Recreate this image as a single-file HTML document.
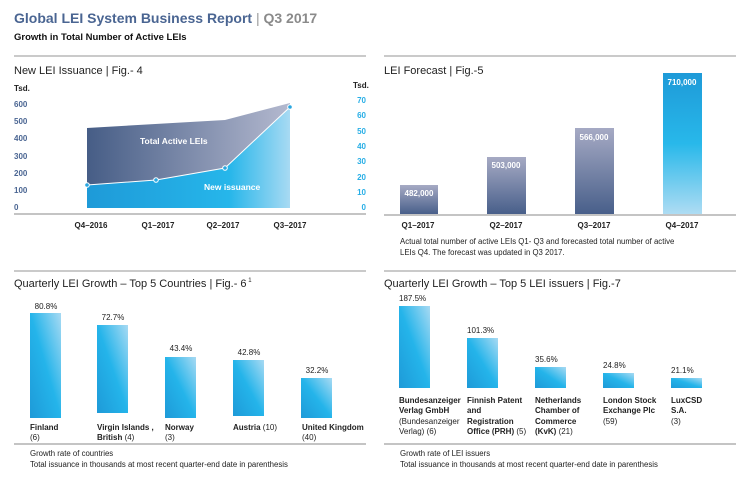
<!DOCTYPE html>
<html><head><meta charset="utf-8"><style>
body{margin:0;background:#fff}
svg{display:block;font-family:"Liberation Sans",sans-serif}
.b{font-weight:bold}
</style></head><body>
<svg width="750" height="481" viewBox="0 0 750 481">
<defs>
<linearGradient id="dk" x1="0" y1="0" x2="1" y2="0"><stop offset="0" stop-color="#465d86"/><stop offset="1" stop-color="#b4b9cf"/></linearGradient>
<linearGradient id="lb" x1="0" y1="0" x2="1" y2="0"><stop offset="0" stop-color="#1e9ad8"/><stop offset="0.7" stop-color="#26b6ea"/><stop offset="1" stop-color="#a8daf3"/></linearGradient>
<linearGradient id="gv" x1="0" y1="0" x2="0" y2="1"><stop offset="0" stop-color="#a6aac4"/><stop offset="1" stop-color="#485f8a"/></linearGradient>
<linearGradient id="bb" x1="0" y1="1" x2="1" y2="0"><stop offset="0" stop-color="#1e9ad8"/><stop offset="0.5" stop-color="#24b4ea"/><stop offset="1" stop-color="#a8daf3"/></linearGradient>
<linearGradient id="q4" x1="0" y1="0" x2="0" y2="1"><stop offset="0" stop-color="#1e9ad8"/><stop offset="0.5" stop-color="#28b8ea"/><stop offset="1" stop-color="#aedcf3"/></linearGradient>
</defs>
<text x="14" y="23" font-size="14" class="b" fill="#4a6592">Global LEI System Business Report <tspan fill="#999" font-weight="normal">|</tspan> <tspan fill="#8a8a8a">Q3 2017</tspan></text>
<text x="14" y="40" font-size="9.5" class="b" fill="#111">Growth in Total Number of Active LEIs</text>
<g stroke="#aaa" stroke-width="1.2"><line x1="14" y1="56" x2="366" y2="56"/><line x1="384" y1="56" x2="736" y2="56"/><line x1="14" y1="271" x2="366" y2="271"/><line x1="384" y1="271" x2="736" y2="271"/></g>
<!-- Fig 4 -->
<text x="14" y="74" font-size="11" fill="#222">New LEI Issuance  |  Fig.- 4</text>
<text x="14" y="91" font-size="8" class="b" fill="#222">Tsd.</text>
<text x="353" y="88" font-size="8" class="b" fill="#222">Tsd.</text>
<g font-size="8" class="b" fill="#4a6592">
<text x="14" y="107">600</text><text x="14" y="124">500</text><text x="14" y="141">400</text><text x="14" y="159">300</text><text x="14" y="176">200</text><text x="14" y="193">100</text><text x="14" y="210">0</text>
</g>
<g font-size="8" class="b" fill="#27aee6" text-anchor="end">
<text x="366" y="103">70</text><text x="366" y="118">60</text><text x="366" y="134">50</text><text x="366" y="149">40</text><text x="366" y="164">30</text><text x="366" y="180">20</text><text x="366" y="195">10</text><text x="366" y="210">0</text>
</g>
<polygon points="87,128 225,120 290,103 290,208 87,208" fill="url(#dk)"/>
<polygon points="87,185 156,180 225,168 290,107 290,208 87,208" fill="url(#lb)"/>
<polyline points="87,185 156,180 225,168 290,107" fill="none" stroke="#fff" stroke-width="1"/>
<g stroke="#fff" stroke-width="1" fill="#2aa7e0"><circle cx="87" cy="185" r="2.3"/><circle cx="156" cy="180" r="2.3"/><circle cx="225" cy="168" r="2.3"/><circle cx="290" cy="107" r="2.3"/></g>
<text x="140" y="144" font-size="8.5" class="b" fill="#fff">Total Active LEIs</text>
<text x="204" y="190" font-size="8.5" class="b" fill="#fff">New issuance</text>
<line x1="14" y1="214" x2="366" y2="214" stroke="#888" stroke-width="1"/>
<g font-size="8" class="b" fill="#222" text-anchor="middle"><text x="91" y="228">Q4–2016</text><text x="158" y="228">Q1–2017</text><text x="223" y="228">Q2–2017</text><text x="290" y="228">Q3–2017</text></g>
<!-- Fig 5 -->
<text x="384" y="74" font-size="11" fill="#222">LEI Forecast  |  Fig.-5</text>
<rect x="400" y="185" width="38" height="29" fill="url(#gv)"/>
<rect x="487" y="157" width="39" height="57" fill="url(#gv)"/>
<rect x="575" y="128" width="39" height="86" fill="url(#gv)"/>
<rect x="663" y="73" width="39" height="141" fill="url(#q4)"/>
<g font-size="8" class="b" fill="#fff" text-anchor="middle"><text x="419" y="196">482,000</text><text x="506" y="168">503,000</text><text x="594" y="140">566,000</text><text x="682" y="85">710,000</text></g>
<line x1="384" y1="215" x2="736" y2="215" stroke="#888" stroke-width="1"/>
<g font-size="8" class="b" fill="#222" text-anchor="middle"><text x="418" y="228">Q1–2017</text><text x="506" y="228">Q2–2017</text><text x="594" y="228">Q3–2017</text><text x="682" y="228">Q4–2017</text></g>
<text x="400" y="244" font-size="7.8" fill="#222">Actual total number of active LEIs Q1- Q3 and forecasted total number of active</text>
<text x="400" y="255" font-size="7.8" fill="#222">LEIs Q4. The  forecast was updated in Q3 2017.</text>
<!-- Fig 6 -->
<text x="14" y="287" font-size="11" fill="#222">Quarterly LEI Growth – Top 5 Countries  |  Fig.- 6<tspan font-size="6" dy="-5"> 1</tspan></text>
<rect x="30" y="313" width="31" height="105" fill="url(#bb)"/>
<rect x="97" y="325" width="31" height="88" fill="url(#bb)"/>
<rect x="165" y="357" width="31" height="61" fill="url(#bb)"/>
<rect x="233" y="360" width="31" height="56" fill="url(#bb)"/>
<rect x="301" y="378" width="31" height="40" fill="url(#bb)"/>
<g font-size="8" fill="#222" text-anchor="middle"><text x="46" y="309">80.8%</text><text x="113" y="320">72.7%</text><text x="181" y="351">43.4%</text><text x="249" y="355">42.8%</text><text x="317" y="373">32.2%</text></g>
<g font-size="8" fill="#222">
<text x="30" y="430" class="b">Finland</text><text x="30" y="440">(6)</text>
<text x="97" y="430" class="b">Virgin Islands ,</text><text x="97" y="440"><tspan class="b">British</tspan> (4)</text>
<text x="165" y="430" class="b">Norway</text><text x="165" y="440">(3)</text>
<text x="233" y="430"><tspan class="b">Austria</tspan> (10)</text>
<text x="302" y="430" class="b">United Kingdom</text><text x="302" y="440">(40)</text>
</g>
<line x1="14" y1="444" x2="366" y2="444" stroke="#888" stroke-width="1"/>
<text x="30" y="456" font-size="7.8" fill="#222">Growth rate of countries</text>
<text x="30" y="467" font-size="7.8" fill="#222">Total issuance in thousands at most recent quarter-end date in parenthesis</text>
<!-- Fig 7 -->
<text x="384" y="287" font-size="11" fill="#222">Quarterly LEI Growth – Top 5 LEI issuers  |  Fig.-7</text>
<rect x="399" y="306" width="31" height="82" fill="url(#bb)"/>
<rect x="467" y="338" width="31" height="50" fill="url(#bb)"/>
<rect x="535" y="367" width="31" height="21" fill="url(#bb)"/>
<rect x="603" y="373" width="31" height="15" fill="url(#bb)"/>
<rect x="671" y="378" width="31" height="10" fill="url(#bb)"/>
<g font-size="8" fill="#222"><text x="399" y="301">187.5%</text><text x="467" y="333">101.3%</text><text x="535" y="362">35.6%</text><text x="603" y="368">24.8%</text><text x="671" y="373">21.1%</text></g>
<g font-size="8" fill="#222">
<text x="399" y="403" class="b">Bundesanzeiger</text><text x="399" y="413" class="b">Verlag GmbH</text><text x="399" y="424">(Bundesanzeiger</text><text x="399" y="434">Verlag) (6)</text>
<text x="467" y="403" class="b">Finnish Patent</text><text x="467" y="413" class="b">and</text><text x="467" y="424" class="b">Registration</text><text x="467" y="434"><tspan class="b">Office (PRH)</tspan> (5)</text>
<text x="535" y="403" class="b">Netherlands</text><text x="535" y="413" class="b">Chamber of</text><text x="535" y="424" class="b">Commerce</text><text x="535" y="434"><tspan class="b">(KvK)</tspan> (21)</text>
<text x="603" y="403" class="b">London Stock</text><text x="603" y="413" class="b">Exchange Plc</text><text x="603" y="424">(59)</text>
<text x="671" y="403" class="b">LuxCSD</text><text x="671" y="413" class="b">S.A.</text><text x="671" y="424">(3)</text>
</g>
<line x1="384" y1="444" x2="736" y2="444" stroke="#888" stroke-width="1"/>
<text x="400" y="456" font-size="7.8" fill="#222">Growth rate of LEI issuers</text>
<text x="400" y="467" font-size="7.8" fill="#222">Total issuance in thousands at most recent quarter-end date in parenthesis</text>
</svg>
</body></html>
